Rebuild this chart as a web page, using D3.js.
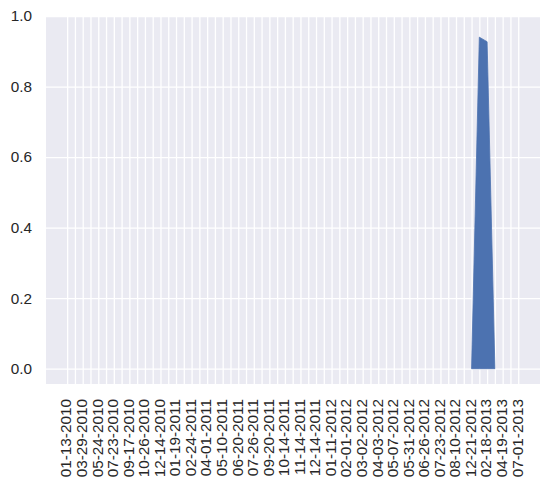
<!DOCTYPE html>
<html>
<head>
<meta charset="utf-8">
<script src="https://cdnjs.cloudflare.com/ajax/libs/d3/7.8.5/d3.min.js"></script>
<style>
  body { margin: 0; background: #fff; }
  #chart text { font-family: "Liberation Sans", Arial, sans-serif; fill: #262626; }
</style>
</head>
<body>
<div id="chart"></div>
<script>
// dates shown under the axis (every other category has a label)
var tickLabels = ["01-13-2010", "03-29-2010", "05-24-2010", "07-23-2010", "09-17-2010",
  "10-26-2010", "12-14-2010", "01-19-2011", "02-24-2011", "04-01-2011",
  "05-10-2011", "06-20-2011", "07-26-2011", "09-20-2011", "10-14-2011",
  "11-14-2011", "12-14-2011", "01-11-2012", "02-01-2012", "03-02-2012",
  "04-03-2012", "05-07-2012", "05-31-2012", "06-26-2012", "07-23-2012",
  "08-10-2012", "12-21-2012", "02-18-2013", "04-19-2013", "07-01-2013"];

// one value per category (59 categories)
var values = [0, 0, 0, 0, 0, 0, 0, 0, 0, 0,
  0, 0, 0, 0, 0, 0, 0, 0, 0, 0,
  0, 0, 0, 0, 0, 0, 0, 0, 0, 0,
  0, 0, 0, 0, 0, 0, 0, 0, 0, 0,
  0, 0, 0, 0, 0, 0, 0, 0, 0, 0,
  0, 0, 0, 0.94, 0.927, 0, 0, 0, 0];

var yTicks = [0, 0.2, 0.4, 0.6, 0.8, 1.0];

var width = 550;
var height = 486;
var margin = { top: 16, right: 10, bottom: 102, left: 46 };

var svg = d3.select('#chart')
  .append('svg')
  .attr('width', width)
  .attr('height', height);

var x = d3.scaleLinear()
  .domain([-2.72, values.length - 1 + 2.8])
  .range([margin.left, width - margin.right]);

var y = d3.scaleLinear()
  .domain([-0.0434, 1.0])
  .range([height - margin.bottom, margin.top]);

// plot background
svg.append('rect')
  .attr('x', margin.left)
  .attr('y', margin.top)
  .attr('width', width - margin.left - margin.right)
  .attr('height', height - margin.top - margin.bottom)
  .attr('fill', '#eaeaf2');

// vertical grid + x labels
var xAxis = d3.axisBottom(x)
  .tickValues(d3.range(values.length))
  .tickSize(-(height - margin.top - margin.bottom))
  .tickPadding(0)
  .tickFormat(function(i) { return i % 2 === 0 ? tickLabels[i / 2] : ''; });

var gx = svg.append('g')
  .attr('transform', 'translate(0,' + (height - margin.bottom) + ')')
  .call(xAxis);
gx.select('.domain').remove();
gx.selectAll('line').attr('stroke', '#fff').attr('stroke-width', 1.3);
gx.selectAll('text')
  .attr('font-size', '15.3px')
  .attr('text-anchor', 'end')
  .attr('transform', 'rotate(-90)')
  .attr('x', -15)
  .attr('y', 0)
  .attr('dy', '0.25em');

// horizontal grid + y labels
var yAxis = d3.axisLeft(y)
  .tickValues(yTicks)
  .tickSize(-(width - margin.left - margin.right))
  .tickPadding(14)
  .tickFormat(d3.format('.1f'));

var gy = svg.append('g')
  .attr('transform', 'translate(' + margin.left + ',0)')
  .call(yAxis);
gy.select('.domain').remove();
gy.selectAll('line').attr('stroke', '#fff').attr('stroke-width', 1.3);
gy.selectAll('text').attr('font-size', '15.3px');

// area
var area = d3.area()
  .x(function(d, i) { return x(i); })
  .y0(y(0))
  .y1(function(d) { return y(d); })
  .defined(function(d, i) { return i >= 52 && i <= 55; });

svg.append('path')
  .datum(values)
  .attr('d', area)
  .attr('fill', '#4c72b0')
  .attr('stroke', '#4c72b0')
  .attr('stroke-width', 0.8);
</script>
</body>
</html>
